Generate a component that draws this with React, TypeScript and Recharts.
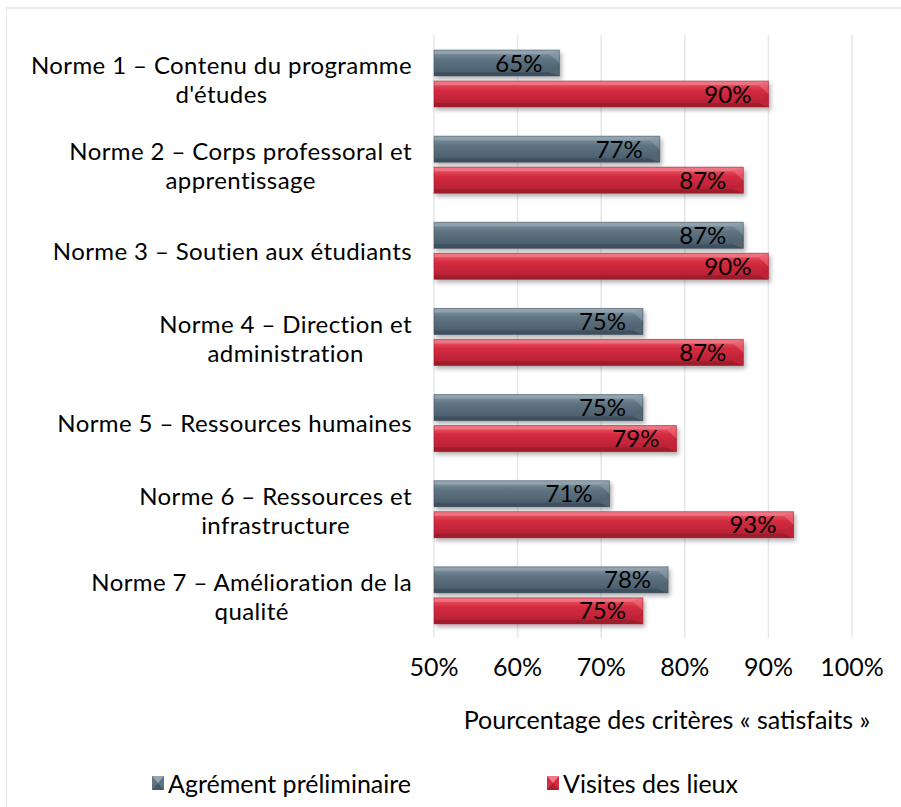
import { BarChart, Bar, XAxis, YAxis, CartesianGrid, LabelList, Legend } from 'recharts';

const categories = [
  "Norme 1 – Contenu du programme\nd'études",
  'Norme 2 – Corps professoral et\napprentissage',
  'Norme 3 – Soutien aux étudiants',
  'Norme 4 – Direction et\nadministration',
  'Norme 5 – Ressources humaines',
  'Norme 6 – Ressources et\ninfrastructure',
  'Norme 7 – Amélioration de la\nqualité',
];
const agrement = [65, 77, 87, 75, 75, 71, 78];
const visites = [90, 87, 90, 87, 79, 93, 75];
const xTicks = [50, 60, 70, 80, 90, 100];

const seriesNames = ['Agrément préliminaire', 'Visites des lieux'];

const data = categories.map((name, i) => ({ name, agrement: agrement[i], visites: visites[i] }));

const FONT = 'Lato, "Open Sans", sans-serif';

const palettes = {
  grey: { top: '#8a9daa', mid: '#5f7482', bottom: '#46596a', light: '#94a6b2', dark: '#3d4e5b', side: '#52666f' },
  red: { top: '#ee6473', mid: '#d42b40', bottom: '#b01f32', light: '#f07a87', dark: '#9a1a2b', side: '#c02438' },
};

function BevelBar(props: any) {
  const { x, y, width, height, tone } = props;
  if (!width || width <= 0) return null;
  const p = palettes[tone as 'grey' | 'red'];
  const b = 4;
  const s = Math.min(10, width / 2);
  return (
    <g filter="url(#barShadow)">
      <rect x={x} y={y} width={width} height={height} fill={`url(#grad-${tone})`} />
      <polygon
        points={`${x},${y} ${x + width},${y} ${x + width - s},${y + b} ${x},${y + b}`}
        fill={p.light}
        opacity={0.8}
      />
      <polygon
        points={`${x},${y + height} ${x + width},${y + height} ${x + width - s},${y + height - b} ${x},${y + height - b}`}
        fill={p.dark}
        opacity={0.8}
      />
      <polygon
        points={`${x + width},${y} ${x + width},${y + height / 2} ${x + width - s},${y + b}`}
        fill={p.light}
        opacity={0.5}
      />
      <polygon
        points={`${x + width},${y + height / 2} ${x + width},${y + height} ${x + width - s},${y + height - b}`}
        fill={p.side}
      />
      <rect x={x} y={y} width={width} height={height} fill="none" stroke={p.dark} strokeOpacity={0.5} strokeWidth={1} />
    </g>
  );
}

function CategoryTick(props: any) {
  const { y, payload } = props;
  const lines: string[] = String(payload.value).split('\n');
  const shift = lines.length > 1 ? 1 : 0;
  return (
    <foreignObject x={0} y={y - 40 + shift} width={412} height={80}>
      <div
        style={{
          height: '100%',
          display: 'flex',
          justifyContent: 'flex-end',
          alignItems: 'center',
          fontFamily: FONT,
          fontSize: 24,
          letterSpacing: 0.4,
          lineHeight: '29px',
          color: '#000',
        }}
      >
        <div style={{ textAlign: 'center', whiteSpace: 'nowrap' }}>
          {lines.map((l, i) => (
            <div key={i}>{l}</div>
          ))}
        </div>
      </div>
    </foreignObject>
  );
}

function LegendIcon({ tone }: { tone: 'grey' | 'red' }) {
  const p = palettes[tone];
  return (
    <svg width={12} height={14} style={{ display: 'block' }}>
      <rect x={0} y={0} width={12} height={14} fill={p.mid} />
      <polygon points="0,0 12,0 6,7" fill={p.light} />
      <polygon points="0,14 12,14 6,7" fill={p.dark} opacity={0.7} />
    </svg>
  );
}

function ChartLegend() {
  const items: { name: string; tone: 'grey' | 'red'; left: number }[] = [
    { name: seriesNames[0], tone: 'grey', left: 152 },
    { name: seriesNames[1], tone: 'red', left: 547 },
  ];
  return (
    <div style={{ position: 'relative', height: 40, width: 901, fontFamily: FONT, fontSize: 25, color: '#000' }}>
      {items.map((it) => (
        <div
          key={it.name}
          style={{ position: 'absolute', left: it.left, top: 0, height: 40, display: 'flex', alignItems: 'center', gap: 4 }}
        >
          <LegendIcon tone={it.tone} />
          <span>{it.name}</span>
        </div>
      ))}
    </div>
  );
}

export default function App() {
  return (
    <div style={{ position: 'fixed', left: 0, top: 0, width: 901, height: 807, overflow: 'hidden', background: '#fff' }}>
      <div
        style={{
          position: 'absolute',
          left: 6,
          top: 7,
          width: 1000,
          height: 1000,
          border: '2px solid #e6ebe9',
          borderRight: 'none',
          borderBottom: 'none',
          borderLeftWidth: 1,
        }}
      />
      <BarChart
        width={901}
        height={807}
        data={data}
        layout="vertical"
        margin={{ top: 35, right: 49, bottom: 4, left: 0 }}
        barSize={26}
        barGap={5}
        style={{ position: 'absolute', left: 0, top: 0 }}
      >
        <defs>
          <linearGradient id="grad-grey" x1="0" y1="0" x2="0" y2="1">
            <stop offset="0%" stopColor={palettes.grey.top} />
            <stop offset="35%" stopColor={palettes.grey.mid} />
            <stop offset="100%" stopColor={palettes.grey.bottom} />
          </linearGradient>
          <linearGradient id="grad-red" x1="0" y1="0" x2="0" y2="1">
            <stop offset="0%" stopColor={palettes.red.top} />
            <stop offset="35%" stopColor={palettes.red.mid} />
            <stop offset="100%" stopColor={palettes.red.bottom} />
          </linearGradient>
          <filter id="barShadow" x="-5%" y="-20%" width="115%" height="160%">
            <feDropShadow dx={2} dy={3} stdDeviation={2} floodColor="#000" floodOpacity={0.3} />
          </filter>
        </defs>
        <CartesianGrid horizontal={false} stroke="#e4e8e8" strokeWidth={1.5} />
        <XAxis
          type="number"
          domain={[50, 100]}
          ticks={xTicks}
          tickFormatter={(v: number) => `${v}%`}
          axisLine={false}
          tickLine={false}
          tickMargin={14}
          height={125}
          tick={{ fill: '#000', fontSize: 25, fontFamily: FONT }}
          label={{
            value: 'Pourcentage des critères « satisfaits »',
            position: 'insideBottom',
            offset: 34,
            dx: 24,
            fill: '#000',
            fontSize: 25,
            fontFamily: FONT,
          }}
        />
        <YAxis
          type="category"
          dataKey="name"
          width={434}
          axisLine={false}
          tickLine={false}
          tick={<CategoryTick />}
          interval={0}
        />
        <Legend verticalAlign="bottom" height={40} content={() => <ChartLegend />} />
        <Bar dataKey="agrement" name={seriesNames[0]} isAnimationActive={false} shape={(p: any) => <BevelBar {...p} tone="grey" />}>
          <LabelList
            dataKey="agrement"
            position="insideRight"
            offset={17}
            formatter={(v: any) => `${v}%`}
            fill="#000"
            fontSize={24}
            fontFamily={FONT}
          />
        </Bar>
        <Bar dataKey="visites" name={seriesNames[1]} isAnimationActive={false} shape={(p: any) => <BevelBar {...p} tone="red" />}>
          <LabelList
            dataKey="visites"
            position="insideRight"
            offset={17}
            formatter={(v: any) => `${v}%`}
            fill="#000"
            fontSize={24}
            fontFamily={FONT}
          />
        </Bar>
      </BarChart>
    </div>
  );
}
